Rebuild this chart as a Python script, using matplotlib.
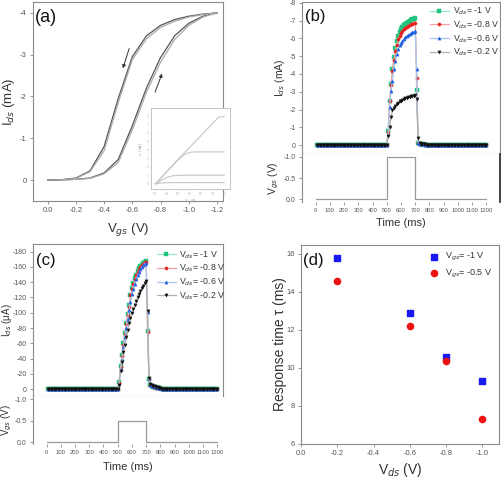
import numpy as np
import matplotlib
matplotlib.use("Agg")
import matplotlib.pyplot as plt

plt.rcParams['font.family'] = ['Liberation Sans', 'DejaVu Sans']
plt.rcParams['axes.unicode_minus'] = False

W, H = 502, 482
GRAY = '#8a8a8a'
TXT = '#333333'

# ---------- (a) transfer hysteresis ----------
vgs_a = [0.0, -0.1, -0.2, -0.3, -0.4, -0.5, -0.6, -0.7, -0.8, -0.9, -1.0, -1.1, -1.2]
fwd_1 = [0, -0.005, -0.02, -0.05, -0.17, -0.49, -1.3, -2.2, -2.93, -3.45, -3.75, -3.92, -4.0]
fwd_2 = [0, -0.005, -0.015, -0.04, -0.15, -0.42, -1.2, -2.1, -2.82, -3.36, -3.7, -3.9, -4.0]
bwd_1 = [0, -0.01, -0.05, -0.22, -0.8, -1.95, -2.95, -3.45, -3.7, -3.84, -3.92, -3.97, -4.0]
bwd_2 = [0, -0.01, -0.04, -0.2, -0.7, -1.85, -2.88, -3.38, -3.65, -3.8, -3.9, -3.96, -4.0]

# inset output curves
vds_in = [0.0, 0.1, 0.2, 0.3, 0.4, 0.5, 0.6, 0.7, 0.8, 0.9, 1.0, 1.1, 1.2]
out_1 = [0, 0.7, 1.45, 2.15, 2.9, 3.6, 4.3, 5.0, 5.7, 6.4, 7.1, 7.8, 7.9]
out_2 = [0, 0.7, 1.45, 2.15, 2.85, 3.4, 3.7, 3.75, 3.75, 3.75, 3.75, 3.75, 3.75]
out_3 = [0, 0.4, 0.75, 0.95, 1.0, 1.02, 1.02, 1.02, 1.02, 1.02, 1.02, 1.02, 1.02]
out_4 = [0, 0.1, 0.14, 0.15, 0.15, 0.15, 0.15, 0.15, 0.15, 0.15, 0.15, 0.15, 0.15]

# ---------- (b) / (c) time response ----------
time_ms = np.arange(10, 1201, 10)   # 120 samples
legend_b = ['V$_{ds}$= -1 V', 'V$_{ds}$= -0.8 V', 'V$_{ds}$= -0.6 V', 'V$_{ds}$= -0.2 V']

# (b): Vgs = -1 V pulse, mA ; rise = 510..700 ms, post = 710..800 ms
b_rise = [
    [-0.8, -2.5, -3.45, -4.25, -4.95, -5.45, -5.85, -6.15, -6.35, -6.5, -6.62, -6.72, -6.8, -6.87, -6.93, -6.98, -7.02, -7.06, -7.09, -7.12],
    [-0.75, -2.45, -3.35, -4.15, -4.8, -5.3, -5.65, -5.95, -6.15, -6.3, -6.42, -6.52, -6.6, -6.66, -6.71, -6.75, -6.79, -6.82, -6.85, -6.88],
    [-0.65, -2.15, -3.05, -3.6, -4.25, -4.75, -5.1, -5.4, -5.6, -5.75, -5.87, -5.97, -6.05, -6.12, -6.18, -6.24, -6.29, -6.33, -6.37, -6.4],
    [-0.5, -1.0, -1.6, -1.95, -2.1, -2.2, -2.3, -2.38, -2.45, -2.5, -2.55, -2.6, -2.64, -2.67, -2.7, -2.72, -2.74, -2.76, -2.78, -2.8],
]
b_post = [
    [-3.1, -0.12, -0.08, -0.06, -0.05, -0.04, -0.03, -0.02, -0.01, -0.01],
    [-3.75, -0.12, -0.08, -0.06, -0.05, -0.04, -0.03, -0.02, -0.01, -0.01],
    [-4.25, -0.12, -0.08, -0.06, -0.05, -0.04, -0.03, -0.02, -0.01, -0.01],
    [-2.6, -0.38, -0.12, -0.08, -0.06, -0.05, -0.04, -0.03, -0.02, -0.01],
]

# (c): Vgs = -0.5 V pulse, uA
c_rise = [
    [-9, -30, -45, -60, -73, -86, -98, -110, -123, -132, -139, -145, -150, -154, -158, -161, -163, -165, -167, -168],
    [-8, -29, -43, -58, -72, -85, -97, -108, -123, -131, -138, -144, -149, -153, -157, -160, -162, -164, -166, -167],
    [-7, -27, -40, -55, -68, -80, -92, -103, -114, -124, -131, -138, -144, -149, -153, -157, -160, -162, -164, -165],
    [-6, -24, -36, -48, -58, -68, -78, -86, -93, -100, -105, -110, -115, -120, -124, -128, -132, -135, -139, -142],
]
c_post = [
    [-76, -13, -5, -4, -3, -2.5, -2, -1.5, -1.2, -1],
    [-75, -13, -5, -4, -3, -2.5, -2, -1.5, -1.2, -1],
    [-101, -13, -6, -4.5, -3.5, -3, -2.5, -2, -1.5, -1.2],
    [-102, -14, -7, -5, -4, -3.5, -3, -2.5, -2, -1.5],
]
c_base = -0.5

pulse_t = [0, 500, 500, 700, 700, 1200]
pulse_b = [0, 0, -1.0, -1.0, 0, 0]
pulse_c = [0, 0, -0.5, -0.5, 0, 0]

# ---------- (d) response time ----------
vds_d = [-0.2, -0.6, -0.8, -1.0]
tau_vgs1 = [15.8, 12.9, 10.6, 9.3]
tau_vgs05 = [14.55, 12.2, 10.35, 7.3]

mark_col = ['#1fc47f', '#e8231f', '#1f5fe0', '#111111']
line_col = ['#9ee6c4', '#f4a0a0', '#a8c4f0', '#b0b0b0']
markers = ['s', 'o', '^', 'v']


def rect(l, t, r, b):
    return [l / W, 1 - b / H, (r - l) / W, (b - t) / H]


def style(ax, fs=5.5):
    for s in ax.spines.values():
        s.set_color(GRAY)
        s.set_linewidth(0.8)
    ax.tick_params(colors=GRAY, labelcolor='#555555', labelsize=fs,
                   length=2.5, width=0.6, direction='out', pad=2)


def full_series(rise, post, base=0.0):
    return [base] * 50 + rise + post + [base] * 40


fig = plt.figure(figsize=(W / 100, H / 100), dpi=100)

# ---- panel (a)
ax = fig.add_axes(rect(33, 2, 223, 201))
style(ax)
ax.plot(vgs_a, fwd_1, color='#555555', lw=0.9)
ax.plot(vgs_a, fwd_2, color='#aaaaaa', lw=0.9)
ax.plot(vgs_a, bwd_1, color='#555555', lw=0.9)
ax.plot(vgs_a, bwd_2, color='#aaaaaa', lw=0.9)
ax.annotate('', xy=(-0.527, -2.61), xytext=(-0.584, -3.21),
            arrowprops=dict(arrowstyle='-|>', color='#333333', lw=0.7, mutation_scale=5))
ax.annotate('', xy=(-0.818, -2.61), xytext=(-0.754, -2.04),
            arrowprops=dict(arrowstyle='-|>', color='#333333', lw=0.7, mutation_scale=5))
ax.set_xlim(0.104, -1.243)
ax.set_ylim(0.5, -4.26)
ax.set_xticks([0.0, -0.2, -0.4, -0.6, -0.8, -1.0, -1.2])
ax.set_xticklabels(['0.0', '-0.2', '-0.4', '-0.6', '-0.8', '-1.0', '-1.2'])
ax.set_yticks([0, -1, -2, -3, -4])
ax.set_yticklabels(['0', '-1', '-2', '-3', '-4'])
ax.set_xlabel('V$_{gs}$ (V)', fontsize=9.5, color=TXT)
ax.xaxis.set_label_coords(0.5, -0.1)
ax.set_ylabel('I$_{ds}$ (mA)', fontsize=9.5, color=TXT)
ax.yaxis.set_label_coords(-0.085, 0.5)
fig.text(35 / W, 1 - 18 / H, '(a)', fontsize=13, color='#111111', va='center')

ins = fig.add_axes(rect(151, 108, 230, 189))
for s in ins.spines.values():
    s.set_color('#bbbbbb')
    s.set_linewidth(0.6)
for curve in [out_1, out_2, out_3, out_4]:
    ins.plot(vds_in, curve, color='#c4c4c4', lw=0.8)
ins.set_xlim(-0.075, 1.3)
ins.set_ylim(-0.6, 8.9)
ins.set_xticks([0.0, 0.2, 0.4, 0.6, 0.8, 1.0, 1.2])
ins.set_xticklabels(['0.0', '0.2', '0.4', '0.6', '0.8', '1.0', '1.2'])
ins.set_yticks([0, 1, 2, 3, 4, 5, 6, 7, 8])
ins.set_yticklabels(['0', '1', '2', '3', '4', '5', '6', '7', '8'])
ins.tick_params(colors='#bbbbbb', labelcolor='#aaaaaa', labelsize=2, length=1, width=0.4, pad=1)
ins.set_xlabel('V$_{ds}$ (V)', fontsize=2.5, color='#999999', labelpad=1)
ins.set_ylabel('I$_{ds}$ (mA)', fontsize=2.5, color='#999999', labelpad=1)

r_lim = {'(b)': 1295, '(c)': 1240}


def time_panel(l, r, top, mid, bot, rise, post, base, pulse, ylim_i, yticks_i, ylim_v,
               unit, tag, tag_xy, legend_loc, right_dark, lab_x, time_y, lab_fs):
    ax_i = fig.add_axes(rect(l, top, r, mid))
    style(ax_i)
    for k in range(4):
        ax_i.plot(time_ms, full_series(rise[k], post[k], base), color=line_col[k], lw=0.9,
                  marker=markers[k], ms=2.3, mfc=mark_col[k], mec=mark_col[k], mew=0.3,
                  label=legend_b[k])
    ax_i.set_xlim(-95, r_lim[tag])
    ax_i.set_ylim(*ylim_i)
    ax_i.set_yticks(yticks_i)
    ax_i.set_yticklabels([('%d' % v) for v in yticks_i])
    ax_i.tick_params(axis='y', labelsize=5)
    ax_i.tick_params(axis='x', bottom=False, labelbottom=False)
    ax_i.spines['bottom'].set_color('#777777')
    ax_i.set_ylabel('I$_{ds}$ (' + unit + ')', fontsize=lab_fs, color=TXT)
    ax_i.yaxis.set_label_coords((lab_x[0] - l) / (r - l), 0.5)
    ax_i.legend(loc='upper right', bbox_to_anchor=legend_loc, frameon=False, fontsize=6.3,
                handlelength=2.2, handletextpad=0.4, labelspacing=0.25, borderpad=0.1,
                labelcolor='#333333')
    fig.text(tag_xy[0] / W, 1 - tag_xy[1] / H, tag, fontsize=12, color='#111111', va='center')

    ax_v = fig.add_axes(rect(l, mid, r, bot))
    style(ax_v)
    ax_v.plot(pulse_t, pulse, color='#9a9a9a', lw=0.9)
    ax_v.set_xlim(-95, r_lim[tag])
    ax_v.set_ylim(*ylim_v)
    ax_v.set_yticks([0.0, -0.5, -1.0])
    ax_v.set_yticklabels(['0.0', '-0.5', '-1.0'])
    ax_v.tick_params(axis='y', labelsize=5)
    ax_v.set_xticks(np.arange(0, 1201, 100))
    ax_v.set_xticklabels([str(v) for v in range(0, 1201, 100)])
    ax_v.tick_params(axis='x', labelsize=4.2)
    ax_v.spines['top'].set_visible(False)
    ax_v.spines['bottom'].set_visible(False)
    if right_dark:
        ax_v.spines['right'].set_color('#222222')
        ax_v.spines['right'].set_linewidth(1.2)
    else:
        ax_v.spines['right'].set_visible(False)
    ax_v.set_ylabel('V$_{gs}$ (V)', fontsize=lab_fs, color=TXT)
    ax_v.yaxis.set_label_coords((lab_x[1] - l) / (r - l), 0.5)
    ax_v.set_xlabel('Time (ms)', fontsize=8, color=TXT)
    ax_v.xaxis.set_label_coords(0.5, time_y)


# ---- panel (b)
time_panel(302, 500, 2, 154, 202, b_rise, b_post, 0.0, pulse_b,
           (0.5, -8.04), [0, -1, -2, -3, -4, -5, -6, -7, -8], (0.065, -1.07),
           'mA', '(b)', (305, 16), (1.02, 1.01), True, (287, 281), -0.33, 7.5)

# ---- panel (c)
time_panel(33, 223, 244, 396, 444, c_rise, c_post, c_base, pulse_c,
           (9, -190), list(range(0, -181, -20)), (0.04, -1.08),
           'μA', '(c)', (36, 261), (1.04, 1.0), False, (14, 14), -0.37, 7)

# ---- panel (d)
ax = fig.add_axes(rect(301, 245, 499, 444))
style(ax)
ax.scatter(vds_d, tau_vgs1, marker='s', s=17, color='#1a1aee', label='V$_{gs}$= -1 V', zorder=3)
ax.scatter(vds_d, tau_vgs05, marker='o', s=20, color='#ee1111', label='V$_{gs}$= -0.5 V', zorder=3)
ax.set_xlim(0.0, -1.092)
ax.set_ylim(6.0, 16.47)
ax.set_xticks([0.0, -0.2, -0.4, -0.6, -0.8, -1.0])
ax.set_xticklabels(['0.0', '-0.2', '-0.4', '-0.6', '-0.8', '-1.0'])
ax.set_yticks([6, 8, 10, 12, 14, 16])
ax.set_yticklabels(['6', '8', '10', '12', '14', '16'])
ax.set_xlabel('V$_{ds}$ (V)', fontsize=10, color=TXT)
ax.xaxis.set_label_coords(0.5, -0.085)
ax.set_ylabel('Response time τ (ms)', fontsize=10, color=TXT)
ax.yaxis.set_label_coords(-0.071, 0.5)
ax.legend(loc='upper right', frameon=False, fontsize=6.5, handletextpad=0.3,
          labelspacing=0.5, borderpad=0.2, bbox_to_anchor=(1.0, 1.0), labelcolor='#333333')
fig.text(303 / W, 1 - 260 / H, '(d)', fontsize=12, color='#111111', va='center')

fig.savefig('out.png', dpi=100)
